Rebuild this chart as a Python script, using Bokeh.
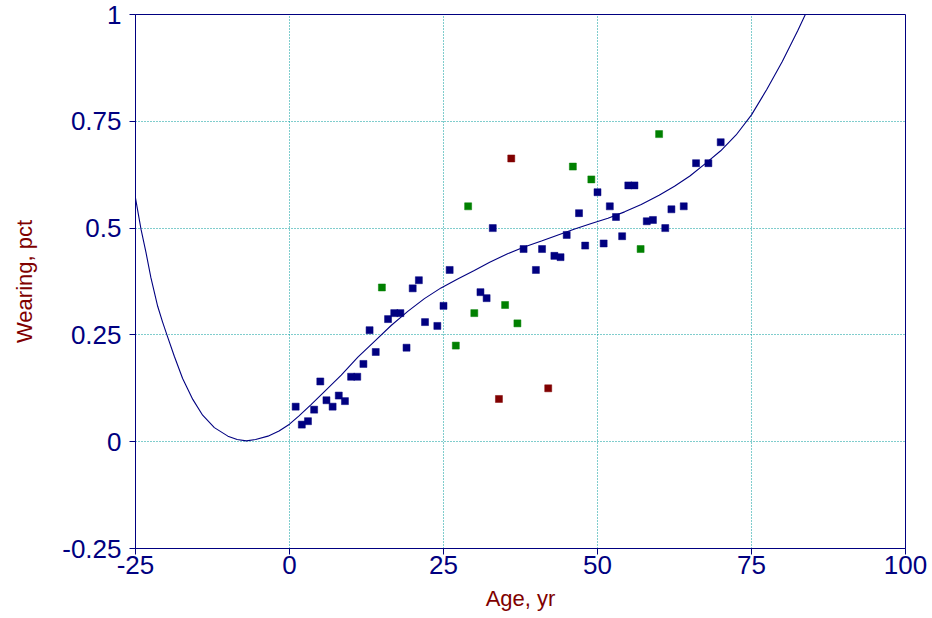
from bokeh.plotting import figure
from bokeh.models import Range1d, FixedTicker, ColumnDataSource
from bokeh.embed import file_html
from bokeh.resources import INLINE

# Observed wearing fraction by age, three groups
blue_age = [1, 2, 3, 4, 5, 6, 7, 8, 9, 10, 11, 12, 13, 14, 16, 17, 18, 19, 20, 21,
            22, 24, 25, 26, 31, 32, 33, 38, 40, 41, 43, 44, 45, 47, 48, 50, 51, 52,
            53, 54, 55, 56, 58, 59, 61, 62, 64, 66, 68, 70]
blue_wear = [0.082, 0.040, 0.048, 0.075, 0.141, 0.097, 0.082, 0.108, 0.095, 0.152,
             0.152, 0.182, 0.261, 0.210, 0.287, 0.301, 0.301, 0.220, 0.359, 0.378,
             0.280, 0.271, 0.318, 0.402, 0.350, 0.336, 0.500, 0.451, 0.402, 0.451,
             0.435, 0.432, 0.484, 0.535, 0.459, 0.584, 0.464, 0.551, 0.526, 0.481,
             0.600, 0.600, 0.516, 0.519, 0.500, 0.544, 0.551, 0.652, 0.652, 0.701]

green_age = [15, 27, 29, 30, 35, 37, 46, 49, 57, 60]
green_wear = [0.361, 0.225, 0.551, 0.301, 0.320, 0.277, 0.644, 0.614, 0.451, 0.720]

red_age = [34, 36, 42]
red_wear = [0.100, 0.663, 0.125]

# Fitted trend curve
fit_age = [-25, -24.1, -23.3, -22.5, -21.4, -20.6, -19.9, -18.7, -17.35, -15.7,
           -14.1, -12.2, -10, -8.5, -7, -5.5, -3.5, -1.7, 0, 1.5, 3.5, 6, 8.4,
           11.1, 13.8, 16.5, 19.2, 21.9, 24.6, 27.3, 30, 32.5, 35.4, 38.1, 40.9,
           43.6, 46.3, 49, 51.7, 54.4, 57.1, 60, 62.5, 65, 67.5, 70, 72.5,
           75, 77.5, 80, 82.5, 84, 85]
fit_wear = [0.570, 0.497, 0.443, 0.384, 0.317, 0.280, 0.250, 0.200, 0.148, 0.099,
            0.062, 0.033, 0.013, 0.005, 0.002, 0.005, 0.013, 0.025, 0.041, 0.060,
            0.087, 0.122, 0.156, 0.198, 0.235, 0.272, 0.305, 0.335, 0.360, 0.381,
            0.401, 0.420, 0.440, 0.456, 0.470, 0.484, 0.498, 0.511, 0.523, 0.538,
            0.555, 0.577, 0.598, 0.622, 0.651, 0.681, 0.718, 0.765, 0.825, 0.890,
            0.962, 1.008, 1.040]

x_ticks = [-25, 0, 25, 50, 75, 100]
x_tick_labels = ["-25", "0", "25", "50", "75", "100"]
y_ticks = [-0.25, 0, 0.25, 0.5, 0.75, 1]
y_tick_labels = ["-0.25", "0", "0.25", "0.5", "0.75", "1"]

NAVY = "#000080"
GREEN = "#008000"
MAROON = "#800000"
GRID = "#009a9a"
FONT = "Liberation Sans"

p = figure(width=932, height=618, output_backend="svg", toolbar_location=None,
           x_range=Range1d(-25, 100), y_range=Range1d(-0.25, 1),
           min_border_left=135, min_border_right=27, min_border_top=14,
           min_border_bottom=70)
p.background_fill_color = "white"
p.border_fill_color = "white"
p.outline_line_color = NAVY
p.outline_line_width = 1

for ax, ticks, labels, title in ((p.xaxis[0], x_ticks, x_tick_labels, "Age, yr"),
                                 (p.yaxis[0], y_ticks, y_tick_labels, "Wearing, pct")):
    ax.ticker = FixedTicker(ticks=ticks)
    ax.major_label_overrides = {t: s for t, s in zip(ticks, labels)}
    ax.axis_line_color = NAVY
    ax.major_tick_line_color = NAVY
    ax.minor_tick_line_color = None
    ax.major_tick_in = 0
    ax.major_tick_out = 6
    ax.major_label_text_color = NAVY
    ax.major_label_text_font = FONT
    ax.major_label_text_font_size = "26px"
    ax.axis_label = title
    ax.axis_label_text_color = MAROON
    ax.axis_label_text_font = FONT
    ax.axis_label_text_font_size = "22px"
    ax.axis_label_text_font_style = "normal"

p.xaxis[0].major_label_standoff = 1
p.xaxis[0].axis_label_standoff = 9
p.yaxis[0].major_label_standoff = 8
p.yaxis[0].axis_label_standoff = 22

p.xgrid.ticker = FixedTicker(ticks=x_ticks)
p.ygrid.ticker = FixedTicker(ticks=y_ticks)
for g in (p.xgrid, p.ygrid):
    g.grid_line_color = GRID
    g.grid_line_dash = "1 2"
    g.grid_line_width = 1
    g.grid_line_alpha = 1.0

p.line(fit_age, fit_wear, line_color=NAVY, line_width=1.1)

for xs, ys, col in ((blue_age, blue_wear, NAVY), (green_age, green_wear, GREEN),
                    (red_age, red_wear, MAROON)):
    src = ColumnDataSource(dict(x=xs, y=ys))
    p.scatter("x", "y", source=src, marker="square", size=7,
              fill_color=col, line_color=col, line_alpha=0.5)

open("out.html", "w").write(file_html(p, INLINE))
